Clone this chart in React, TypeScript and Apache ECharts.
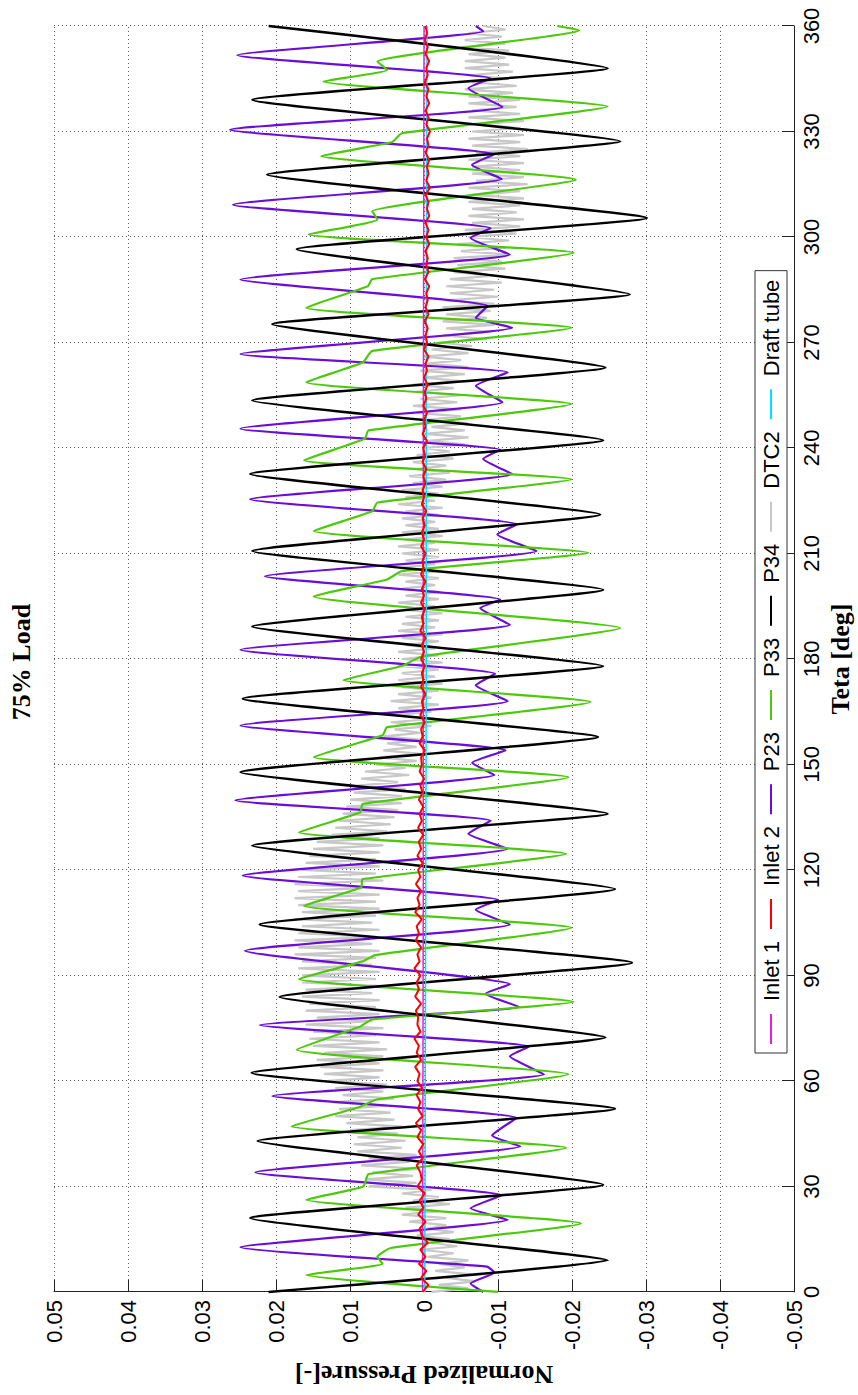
import React, { useEffect, useRef } from "react";
import * as echarts from "echarts";

// Teta [deg] vs normalized pressure
const P34: [number, number][] = [
  [0, 0.021], [9.0, -0.0248], [21.0, 0.0235], [30.5, -0.0242], [42.9, 0.0225], [52.1, -0.0258],
  [62.3, 0.0233], [72.4, -0.0245], [83.9, 0.0195], [93.6, -0.0281], [104.5, 0.0222], [114.6, -0.0258],
  [126.9, 0.0232], [136.0, -0.0248], [147.8, 0.0248], [157.8, -0.0235], [168.7, 0.0245], [178.0, -0.0242],
  [189.2, 0.0232], [199.7, -0.0242], [210.7, 0.0232], [221.1, -0.0238], [232.6, 0.0235], [242.2, -0.0242],
  [253.5, 0.0232], [262.9, -0.0245], [275.2, 0.0205], [283.7, -0.0278], [296.5, 0.0172], [305.4, -0.0301],
  [317.7, 0.0212], [327.2, -0.0265], [339.0, 0.0232], [348.0, -0.0248], [360, 0.021],
];

const P23: [number, number][] = [
  [0, -0.008], [2.4, -0.0063], [5.5, -0.0095], [7.2, -0.0085], [12.7, 0.0248], [20.5, -0.0113],
  [23.8, -0.0063], [27.5, -0.0105], [34.0, 0.0228], [41.4, -0.013], [44.5, -0.0092], [49.5, -0.0125],
  [55.7, 0.0205], [61.9, -0.0162], [67.0, -0.0116], [69.8, -0.0142], [75.9, 0.0222], [81.0, -0.0129],
  [84.8, -0.0083], [87.5, -0.0116], [97.0, 0.0242], [104.5, -0.0116], [108.7, -0.007], [111.5, -0.01],
  [118.4, 0.0245], [126.0, -0.0113], [130.3, -0.006], [134.0, -0.009], [139.8, 0.0255], [147.0, -0.0095],
  [150.5, -0.0065], [154.0, -0.011], [161.1, 0.0248], [168.0, -0.0113], [172.5, -0.007], [175.8, -0.0096],
  [182.6, 0.0248], [189.7, -0.0116], [194.5, -0.0076], [196.9, -0.0103], [203.5, 0.0215], [210.7, -0.0152],
  [215.4, -0.0099], [218.3, -0.0126], [225.4, 0.0235], [232.6, -0.0119], [236.9, -0.008], [239.5, -0.0103],
  [245.5, 0.0248], [253.0, -0.0106], [257.7, -0.007], [261.5, -0.0113], [266.7, 0.0248], [274.2, -0.0119],
  [277.0, -0.007], [280.4, -0.0086], [287.9, 0.0248], [295.0, -0.0116], [299.7, -0.0063], [302.5, -0.009],
  [309.2, 0.0258], [316.5, -0.0105], [320.5, -0.0065], [323.5, -0.0095], [330.5, 0.0262], [337.0, -0.0106],
  [342.3, -0.006], [345.1, -0.009], [351.7, 0.0252], [358.5, -0.008], [360, -0.007],
];

const P33: [number, number][] = [
  [0, -0.01], [4.8, 0.0159], [8.0, 0.0056], [10.0, 0.0063], [12.5, 0.0045], [19.5, -0.0212],
  [26.2, 0.0159], [30.0, 0.0082], [33.5, 0.0075], [41.0, -0.0192], [47.1, 0.0179], [52.4, 0.009],
  [54.8, 0.0063], [61.9, -0.0195], [68.9, 0.0172], [75.5, 0.0086], [77.5, 0.007], [82.5, -0.0202],
  [89.0, 0.0169], [94.0, 0.0083], [95.8, 0.0066], [103.6, -0.0199], [109.8, 0.0162], [115.0, 0.0085],
  [117.4, 0.0083], [124.6, -0.0192], [130.7, 0.0169], [136.4, 0.0086], [138.8, 0.0083], [146.4, -0.0195],
  [152.1, 0.0149], [158.3, 0.0056], [160.6, 0.005], [167.8, -0.0225], [174.0, 0.0109], [178.0, 0.003],
  [180.7, 0.0003], [188.8, -0.0265], [197.8, 0.0149], [202.6, 0.005], [205.0, 0.003], [210.2, -0.0222],
  [216.4, 0.0149], [222.0, 0.007], [224.5, 0.0063], [231.1, -0.0199], [236.5, 0.0162], [242.6, 0.008],
  [245.0, 0.0075], [252.5, -0.0199], [258.7, 0.0159], [264.3, 0.0083], [267.6, 0.007], [274.2, -0.0199],
  [279.9, 0.0159], [286.0, 0.0076], [288.0, 0.007], [295.5, -0.0202], [300.7, 0.0156], [305.0, 0.0063],
  [307.3, 0.007], [316.3, -0.0205], [323.0, 0.0139], [327.0, 0.0043], [329.5, 0.003], [337.1, -0.0248],
  [344.2, 0.0136], [347.5, 0.005], [349.9, 0.0063], [358.8, -0.021], [360, -0.018],
];

// DTC2: one sample per degree, 0..360
const DTC2: number[] = [
  -0.001, -0.006, -0.002, -0.007, -0.003, -0.0065, -0.0015, -0.0055, -0.002, -0.006,
  -0.0005, -0.004, 0.0005, -0.0045, -0.001, -0.0035, 0.001, -0.004, -0.0005, -0.003,
  0.002, -0.003, 0.003, -0.002, 0.0025, -0.0035, 0.0015, -0.002, 0.003, -0.001,
  0.0075, 0.001, 0.008, 0.0015, 0.007, 0.0005, 0.0085, 0.002, 0.0075, 0.001,
  0.009, 0.003, 0.0095, 0.0025, 0.009, 0.0035, 0.01, 0.003, 0.0105, 0.004,
  0.012, 0.0045, 0.0115, 0.005, 0.0125, 0.004, 0.011, 0.0055, 0.012, 0.005,
  0.013, 0.006, 0.0135, 0.0055, 0.014, 0.006, 0.0145, 0.0055, 0.0135, 0.005,
  0.015, 0.006, 0.0155, 0.0065, 0.015, 0.0055, 0.016, 0.007, 0.0145, 0.006,
  0.016, 0.0065, 0.0155, 0.006, 0.0165, 0.007, 0.016, 0.0055, 0.0165, 0.0065,
  0.0165, 0.006, 0.017, 0.007, 0.0165, 0.0065, 0.0175, 0.006, 0.017, 0.007,
  0.0175, 0.0065, 0.017, 0.006, 0.0165, 0.007, 0.0175, 0.0065, 0.0165, 0.006,
  0.017, 0.0065, 0.0175, 0.006, 0.017, 0.007, 0.0175, 0.0055, 0.017, 0.0065,
  0.0165, 0.006, 0.016, 0.0065, 0.0155, 0.006, 0.015, 0.0055, 0.0145, 0.006,
  0.0125, 0.005, 0.012, 0.0045, 0.0115, 0.004, 0.011, 0.0035, 0.0105, 0.003,
  0.01, 0.003, 0.0095, 0.0025, 0.009, 0.0035, 0.0085, 0.002, 0.008, 0.0025,
  0.0065, 0.001, 0.006, 0.0005, 0.0055, 0.001, 0.005, 0.0, 0.0055, 0.0005,
  0.004, -0.001, 0.0045, -0.0015, 0.004, -0.001, 0.0035, -0.002, 0.0045, -0.001,
  0.0035, -0.002, 0.003, -0.0025, 0.0035, -0.0015, 0.003, -0.002, 0.0035, -0.0025,
  0.003, -0.002, 0.0035, -0.0015, 0.0025, -0.002, 0.003, -0.0025, 0.0035, -0.0015,
  0.003, -0.002, 0.0025, -0.0025, 0.003, -0.0015, 0.0035, -0.002, 0.0025, -0.002,
  0.003, -0.0015, 0.0025, -0.002, 0.0035, -0.0025, 0.003, -0.0015, 0.0025, -0.002,
  0.003, -0.002, 0.0035, -0.0015, 0.0025, -0.0025, 0.003, -0.002, 0.0025, -0.0015,
  0.003, -0.002, 0.0025, -0.0025, 0.0035, -0.0015, 0.0025, -0.002, 0.003, -0.0025,
  0.0015, -0.003, 0.002, -0.0035, 0.001, -0.003, 0.0015, -0.004, 0.001, -0.0035,
  0.0, -0.0055, -0.0005, -0.006, 0.0, -0.0055, -0.001, -0.006, -0.0005, -0.005,
  0.001, -0.005, 0.0015, -0.0045, 0.0005, -0.005, 0.001, -0.004, 0.0015, -0.005,
  0.0, -0.0055, 0.0005, -0.006, -0.0005, -0.005, 0.0, -0.006, -0.001, -0.0065,
  -0.002, -0.0085, -0.0025, -0.009, -0.003, -0.0095, -0.0025, -0.0085, -0.003, -0.009,
  -0.0025, -0.0095, -0.003, -0.01, -0.0035, -0.0095, -0.003, -0.0105, -0.0035, -0.0095,
  -0.004, -0.011, -0.0045, -0.0105, -0.004, -0.0115, -0.005, -0.011, -0.0045, -0.0115,
  -0.006, -0.0125, -0.0055, -0.013, -0.0065, -0.0135, -0.006, -0.0125, -0.0065, -0.013,
  -0.006, -0.0135, -0.0065, -0.013, -0.006, -0.014, -0.007, -0.0135, -0.0065, -0.013,
  -0.0065, -0.0135, -0.006, -0.013, -0.007, -0.014, -0.0065, -0.013, -0.006, -0.0135,
  -0.0065, -0.013, -0.007, -0.0135, -0.006, -0.013, -0.0065, -0.0125, -0.006, -0.013,
  -0.006, -0.012, -0.0055, -0.0125, -0.0065, -0.0115, -0.006, -0.012, -0.0055, -0.0115,
  -0.0055, -0.011, -0.006, -0.0115, -0.005, -0.011, -0.0055, -0.0105, -0.006, -0.011, -0.008,
];

// Inlet 2: one sample every 2 degrees, 0..360
const INLET2: number[] = [
  0.0002, -0.0006, 0.0004, -0.0003, 0.0007, -0.0002, 0.0005, -0.0005, 0.0003, 0.0006,
  -0.0002, 0.0008, 0.0001, 0.0006, -0.0001, 0.0009, 0.0003, 0.0005, 0.001, 0.0002,
  0.0007, 0.0001, 0.0009, 0.0004, 0.0011, 0.0002, 0.0008, 0.0005, 0.001, 0.0003,
  0.0009, 0.0006, 0.0012, 0.0004, 0.001, 0.0007, 0.0013, 0.0005, 0.0009, 0.0008,
  0.0011, 0.0004, 0.0012, 0.0007, 0.001, 0.0005, 0.0013, 0.0006, 0.0009, 0.0004,
  0.0011, 0.0007, 0.001, 0.0003, 0.0012, 0.0006, 0.0009, 0.0004, 0.0011, 0.0005,
  0.0008, 0.0002, 0.0009, 0.0004, 0.0007, 0.0001, 0.0008, 0.0003, 0.0006, 0.0001,
  0.0007, 0.0002, 0.0005, 0.0, 0.0006, 0.0003, 0.0004, -0.0001, 0.0006, 0.0002,
  0.0004, -0.0001, 0.0005, 0.0001, 0.0003, -0.0002, 0.0004, 0.0001, 0.0003, -0.0001,
  0.0004, 0.0, 0.0003, -0.0002, 0.0005, 0.0001, 0.0003, -0.0001, 0.0004, 0.0,
  0.0003, -0.0002, 0.0004, 0.0001, 0.0002, -0.0002, 0.0004, 0.0, 0.0003, -0.0001,
  0.0002, -0.0003, 0.0003, 0.0, 0.0002, -0.0002, 0.0001, -0.0003, 0.0002, -0.0001,
  0.0001, -0.0004, 0.0002, -0.0002, 0.0, -0.0004, 0.0001, -0.0003, -0.0001, -0.0005,
  0.0, -0.0004, -0.0002, -0.0006, 0.0, -0.0004, -0.0002, -0.0005, -0.0001, -0.0006,
  -0.0002, -0.0005, -0.0003, -0.0007, -0.0001, -0.0006, -0.0003, -0.0005, -0.0002, -0.0007,
  -0.0003, -0.0006, -0.0002, -0.0007, -0.0004, -0.0006, -0.0002, -0.0008, -0.0003, -0.0006,
  -0.0004, -0.0007, -0.0002, -0.0006, -0.0004, -0.0008, -0.0003, -0.0006, -0.0002, -0.0007,
  -0.0003, -0.0006, -0.0001, -0.0005, -0.0003, -0.0007, -0.0002, -0.0005, -0.0001, -0.0004,
  -0.0002,
];

const INLET1: [number, number][] = [[0, 0.0002], [120, 0.0001], [240, 0.0001], [360, 0.0]];
const DRAFT_TUBE: [number, number][] = [[0, -0.0001], [90, -0.0002], [180, -0.0003], [270, -0.0003], [360, -0.0004]];

const LEGEND_NAMES = ["Inlet 1", "Inlet 2", "P23", "P33", "P34", "DTC2", "Draft tube"];
const COLORS: Record<string, string> = {
  "Inlet 1": "#e020e0",
  "Inlet 2": "#ff0000",
  P23: "#6a0dd6",
  P33: "#4dc90c",
  P34: "#000000",
  DTC2: "#c8c8c8",
  "Draft tube": "#00e0ff",
};

const W = 1395;
const H = 858;

export default function App() {
  const ref = useRef<HTMLDivElement>(null);
  useEffect(() => {
    if (!ref.current) return;
    const chart = echarts.init(ref.current, null, { renderer: "svg", width: W, height: H });
    const dtc2 = DTC2.map((v, i) => [i, v]);
    const inlet2 = INLET2.map((v, i) => [i * 2, v]);
    const sans = "Liberation Sans, Arial, Helvetica, sans-serif";
    const serif = "Liberation Serif, Times New Roman, serif";
    const line = (name: string, data: any, width: number, z: number, smooth: number | boolean) => ({
      type: "line",
      name,
      data,
      showSymbol: false,
      symbol: "none",
      smooth,
      silent: true,
      z,
      color: COLORS[name],
      lineStyle: { color: COLORS[name], width },
      itemStyle: { color: COLORS[name] },
    });
    chart.setOption({
      animation: false,
      backgroundColor: "#ffffff",
      graphic: [
        {
          type: "text",
          x: 733,
          y: 8,
          style: {
            text: "75% Load",
            font: `bold 26px ${serif}`,
            textAlign: "center",
            align: "center",
            textVerticalAlign: "top",
            verticalAlign: "top",
            fill: "#000",
          },
        },
      ],
      grid: { left: 97, right: 26, top: 54, bottom: 61, containLabel: false },
      legend: {
        data: LEGEND_NAMES,
        left: 342,
        top: 755,
        orient: "horizontal",
        icon: "rect",
        itemWidth: 30,
        itemHeight: 2,
        itemGap: 12,
        padding: [5, 9],
        backgroundColor: "#ffffff",
        borderColor: "#333",
        borderWidth: 1,
        borderRadius: 0,
        textStyle: { fontFamily: sans, fontSize: 22, color: "#000", padding: [0, 0, 0, 8] },
      },
      xAxis: {
        type: "value",
        min: 0,
        max: 360,
        interval: 30,
        name: "Teta [deg]",
        nameLocation: "middle",
        nameGap: 28,
        nameTextStyle: { fontFamily: serif, fontWeight: "bold", fontSize: 26, color: "#000" },
        axisLine: { onZero: false, lineStyle: { color: "#222", width: 1 } },
        axisTick: { inside: true, length: 12, lineStyle: { color: "#222" } },
        axisLabel: { margin: 6, fontFamily: sans, fontSize: 22, color: "#000" },
        splitLine: { show: true, lineStyle: { color: "#555", type: [1, 3], width: 1 } },
      },
      yAxis: {
        type: "value",
        min: -0.05,
        max: 0.05,
        interval: 0.01,
        name: "Normalized Pressure[-]",
        nameLocation: "middle",
        nameGap: 68,
        nameRotate: 90,
        nameTextStyle: { fontFamily: serif, fontWeight: "bold", fontSize: 26, color: "#000" },
        axisLine: { onZero: false, lineStyle: { color: "#222", width: 1 } },
        axisTick: { inside: true, length: 12, lineStyle: { color: "#222" } },
        axisLabel: {
          margin: 8,
          fontFamily: sans,
          fontSize: 22,
          color: "#000",
          formatter: (v: number) => {
            const r = Math.round(v * 100) / 100;
            return r === 0 ? "0" : r.toFixed(2);
          },
        },
        splitLine: { show: true, lineStyle: { color: "#555", type: [1, 3], width: 1 } },
      },
      series: [
        line("DTC2", dtc2, 2.2, 1, false),
        line("P23", P23, 2.2, 2, 0.15),
        line("P33", P33, 2.2, 3, 0.15),
        line("P34", P34, 2.5, 4, 0.12),
        line("Draft tube", DRAFT_TUBE, 1.5, 5, false),
        line("Inlet 1", INLET1, 1.5, 6, false),
        line("Inlet 2", inlet2, 2, 7, false),
      ],
    });
    return () => chart.dispose();
  }, []);
  return (
    <div
      style={{
        position: "fixed",
        left: 0,
        top: 0,
        width: 858,
        height: 1395,
        overflow: "hidden",
        background: "#fff",
      }}
    >
      <div
        ref={ref}
        style={{
          position: "absolute",
          left: 0,
          top: 0,
          width: W,
          height: H,
          transformOrigin: "0 0",
          transform: `translate(0px, ${W}px) rotate(-90deg)`,
        }}
      />
    </div>
  );
}
